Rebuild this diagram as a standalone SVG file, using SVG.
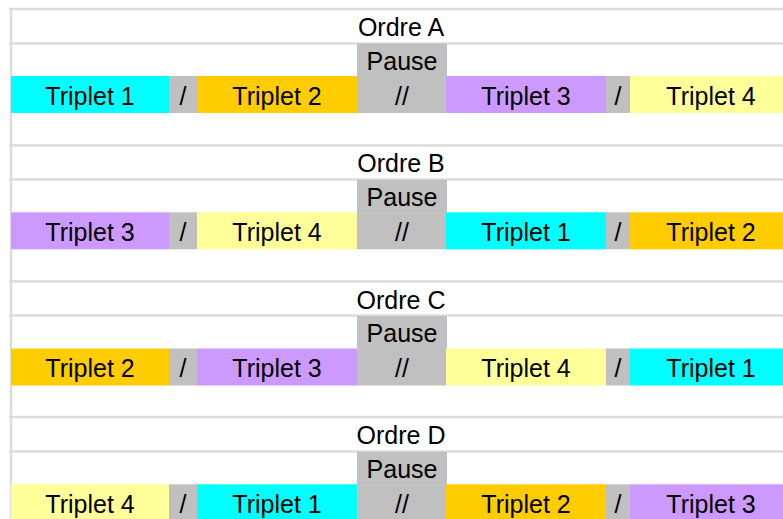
<svg xmlns="http://www.w3.org/2000/svg" width="783" height="519" viewBox="0 0 783 519">
<style>
text{font-family:"Liberation Sans",Arial,sans-serif;font-size:25px;fill:#000;text-anchor:middle}
.g{stroke:#dcdcdc;stroke-width:2.5;fill:none}
.c1{fill:#00ffff}.c2{fill:#ffcc00}.c3{fill:#cc99ff}.c4{fill:#ffff99}.gr{fill:#c0c0c0}
</style>
<rect width="783" height="519" fill="#fff"/>
<g id="connectors">
<line class="g" x1="11" y1="7.8" x2="11" y2="519"/>
<line class="g" x1="9" y1="9" x2="783" y2="9"/>
<line class="g" x1="9" y1="43.5" x2="783" y2="43.5"/>
<line class="g" x1="9" y1="145.5" x2="783" y2="145.5"/>
<line class="g" x1="9" y1="179.5" x2="783" y2="179.5"/>
<line class="g" x1="9" y1="281.5" x2="783" y2="281.5"/>
<line class="g" x1="9" y1="315.5" x2="783" y2="315.5"/>
<line class="g" x1="9" y1="417" x2="783" y2="417"/>
<line class="g" x1="9" y1="451.5" x2="783" y2="451.5"/>
</g>
<g id="ordre-a">
<text id="label-a" x="401" y="36">Ordre A</text>
<g id="a-pause"><rect class="gr" x="357" y="43.5" width="90" height="33"/><rect class="gr" x="357" y="76" width="89" height="37"/><text x="402" y="69.5">Pause</text><text x="402" y="104.5">//</text></g>
<g id="a-t1"><rect class="c1" x="11" y="76" width="158" height="37"/><text x="90" y="104.5">Triplet 1</text></g>
<g id="a-s1"><rect class="gr" x="169" y="76" width="28" height="37"/><text x="183" y="104.5">/</text></g>
<g id="a-t2"><rect class="c2" x="197" y="76" width="160" height="37"/><text x="277" y="104.5">Triplet 2</text></g>
<g id="a-t3"><rect class="c3" x="446" y="76" width="160" height="37"/><text x="526" y="104.5">Triplet 3</text></g>
<g id="a-s2"><rect class="gr" x="606" y="76" width="24" height="37"/><text x="618" y="104.5">/</text></g>
<g id="a-t4"><rect class="c4" x="630" y="76" width="153" height="37"/><text x="711" y="104.5">Triplet 4</text></g>
</g>
<g id="ordre-b" transform="translate(0,136.3)">
<text id="label-b" x="401" y="36">Ordre B</text>
<g id="b-pause"><rect class="gr" x="357" y="43.5" width="90" height="33"/><rect class="gr" x="357" y="76" width="89" height="37"/><text x="402" y="69.5">Pause</text><text x="402" y="104.5">//</text></g>
<g id="b-t3"><rect class="c3" x="11" y="76" width="158" height="37"/><text x="90" y="104.5">Triplet 3</text></g>
<g id="b-s1"><rect class="gr" x="169" y="76" width="28" height="37"/><text x="183" y="104.5">/</text></g>
<g id="b-t4"><rect class="c4" x="197" y="76" width="160" height="37"/><text x="277" y="104.5">Triplet 4</text></g>
<g id="b-t1"><rect class="c1" x="446" y="76" width="160" height="37"/><text x="526" y="104.5">Triplet 1</text></g>
<g id="b-s2"><rect class="gr" x="606" y="76" width="24" height="37"/><text x="618" y="104.5">/</text></g>
<g id="b-t2"><rect class="c2" x="630" y="76" width="153" height="37"/><text x="711" y="104.5">Triplet 2</text></g>
</g>
<g id="ordre-c" transform="translate(0,272.5)">
<text id="label-c" x="401" y="36">Ordre C</text>
<g id="c-pause"><rect class="gr" x="357" y="43.5" width="90" height="33"/><rect class="gr" x="357" y="76" width="89" height="37"/><text x="402" y="69.5">Pause</text><text x="402" y="104.5">//</text></g>
<g id="c-t2"><rect class="c2" x="11" y="76" width="158" height="37"/><text x="90" y="104.5">Triplet 2</text></g>
<g id="c-s1"><rect class="gr" x="169" y="76" width="28" height="37"/><text x="183" y="104.5">/</text></g>
<g id="c-t3"><rect class="c3" x="197" y="76" width="160" height="37"/><text x="277" y="104.5">Triplet 3</text></g>
<g id="c-t4"><rect class="c4" x="446" y="76" width="160" height="37"/><text x="526" y="104.5">Triplet 4</text></g>
<g id="c-s2"><rect class="gr" x="606" y="76" width="24" height="37"/><text x="618" y="104.5">/</text></g>
<g id="c-t1"><rect class="c1" x="630" y="76" width="153" height="37"/><text x="711" y="104.5">Triplet 1</text></g>
</g>
<g id="ordre-d" transform="translate(0,408.3)">
<text id="label-d" x="401" y="36">Ordre D</text>
<g id="d-pause"><rect class="gr" x="357" y="43.5" width="90" height="33"/><rect class="gr" x="357" y="76" width="89" height="37"/><text x="402" y="69.5">Pause</text><text x="402" y="104.5">//</text></g>
<g id="d-t4"><rect class="c4" x="11" y="76" width="158" height="37"/><text x="90" y="104.5">Triplet 4</text></g>
<g id="d-s1"><rect class="gr" x="169" y="76" width="28" height="37"/><text x="183" y="104.5">/</text></g>
<g id="d-t1"><rect class="c1" x="197" y="76" width="160" height="37"/><text x="277" y="104.5">Triplet 1</text></g>
<g id="d-t2"><rect class="c2" x="446" y="76" width="160" height="37"/><text x="526" y="104.5">Triplet 2</text></g>
<g id="d-s2"><rect class="gr" x="606" y="76" width="24" height="37"/><text x="618" y="104.5">/</text></g>
<g id="d-t3"><rect class="c3" x="630" y="76" width="153" height="37"/><text x="711" y="104.5">Triplet 3</text></g>
</g>
</svg>
